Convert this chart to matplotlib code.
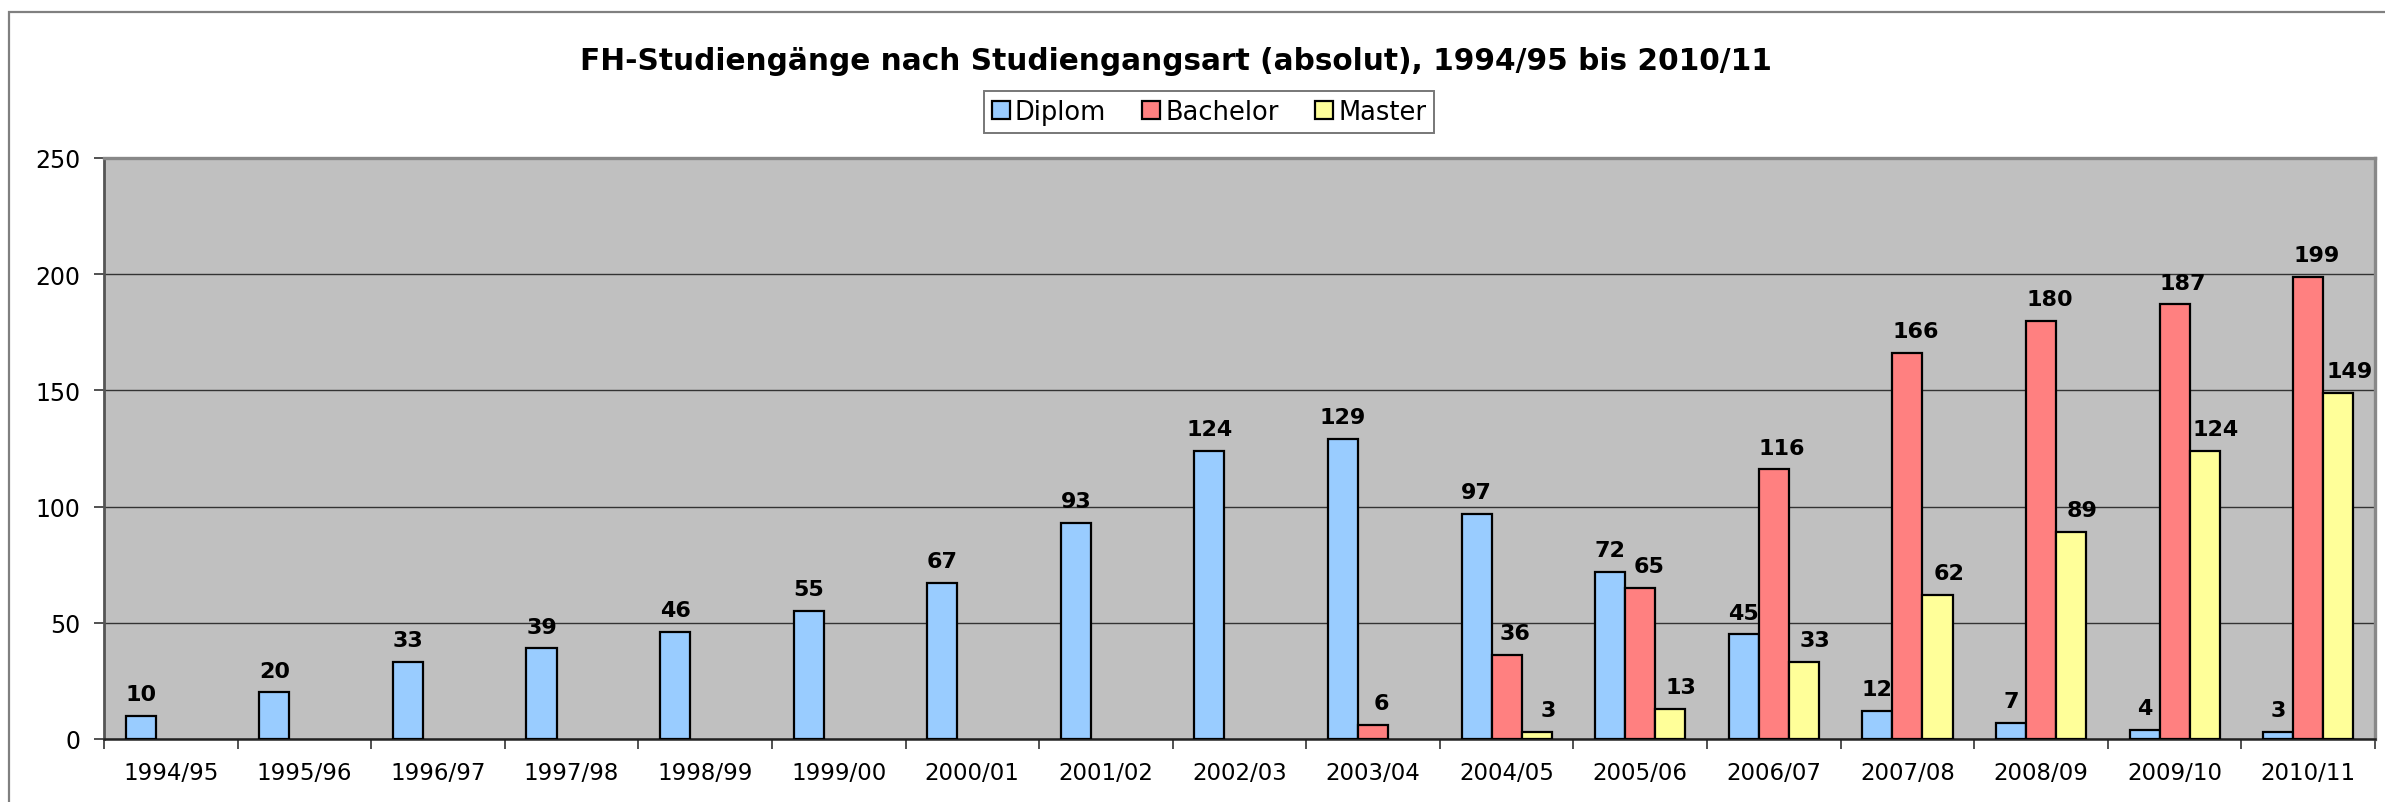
import numpy as np
import matplotlib.pyplot as plt
from matplotlib.patches import Rectangle

# data
years = ['1994/95', '1995/96', '1996/97', '1997/98', '1998/99', '1999/00',
         '2000/01', '2001/02', '2002/03', '2003/04', '2004/05', '2005/06',
         '2006/07', '2007/08', '2008/09', '2009/10', '2010/11']
nan = np.nan
diplom = [10, 20, 33, 39, 46, 55, 67, 93, 124, 129, 97, 72, 45, 12, 7, 4, 3]
bachelor = [nan] * 9 + [6, 36, 65, 116, 166, 180, 187, 199]
master = [nan] * 10 + [3, 13, 33, 62, 89, 124, 149]

series = [('Diplom', diplom, '#99CCFF', 0),
          ('Bachelor', bachelor, '#FF8080', 6),
          ('Master', master, '#FFFF99', 8)]

fig = plt.figure(figsize=(23.85, 8.03), dpi=100)
ax = fig.add_axes([0.0436, 0.0785, 0.9522, 0.7235])

# outer chart border
fig.patches.append(Rectangle((9 / 2385, -0.1), 1.0, 1 - 13 / 803 + 0.1,
                             transform=fig.transFigure, fill=False,
                             edgecolor='#808080', linewidth=1.6))

x = np.arange(len(years))
w = 0.225
for i, (name, vals, col, dx) in enumerate(series):
    pos = x + (i - 1) * w
    ax.bar(pos, vals, width=w, color=col, edgecolor='black', linewidth=1.6,
           label=name, zorder=3)
    for px, v in zip(pos, vals):
        if np.isnan(v):
            continue
        ax.annotate(str(int(v)), (px, v), xytext=(dx, 8.5), textcoords='offset points',
                    ha='center', va='bottom', fontsize=16, fontweight='bold', zorder=4)

ax.set_facecolor('#C0C0C0')
ax.set_xlim(-0.5, len(years) - 0.5)
ax.set_ylim(0, 250)
ax.set_yticks([0, 50, 100, 150, 200, 250])
ax.yaxis.grid(True, color='#333333', linewidth=1.0, zorder=0)
ax.set_axisbelow(True)

ax.set_xticks(x)
ax.set_xticklabels(years, fontsize=16.5)
ax.set_xticks(np.arange(len(years) + 1) - 0.5, minor=True)
ax.tick_params(axis='x', which='major', length=0, pad=16)
ax.tick_params(axis='x', which='minor', length=7, width=1.2, color='#333333')
ax.tick_params(axis='y', length=7, width=1.2, color='#333333', pad=10, labelsize=17)

ax.spines['left'].set_color('#555555')
ax.spines['left'].set_linewidth(2)
ax.spines['bottom'].set_color('#222222')
ax.spines['bottom'].set_linewidth(1.8)
for s in ['top', 'right']:
    ax.spines[s].set_color('#888888')
    ax.spines[s].set_linewidth(2.4)

fig.text(0.493, 0.923, 'FH-Studiengänge nach Studiengangsart (absolut), 1994/95 bis 2010/11',
         ha='center', va='center', fontsize=21.3, fontweight='bold')

leg = fig.legend(loc='center', bbox_to_anchor=(1209 / 2385, 1 - 113 / 803), ncol=3,
                 fontsize=18.5, frameon=True, fancybox=False, edgecolor='#555555',
                 handlelength=0.7, handleheight=0.7, handletextpad=0.2,
                 columnspacing=1.4, borderpad=0.3)
leg.get_frame().set_linewidth(1.4)

fig.savefig('out.png', dpi=100)
